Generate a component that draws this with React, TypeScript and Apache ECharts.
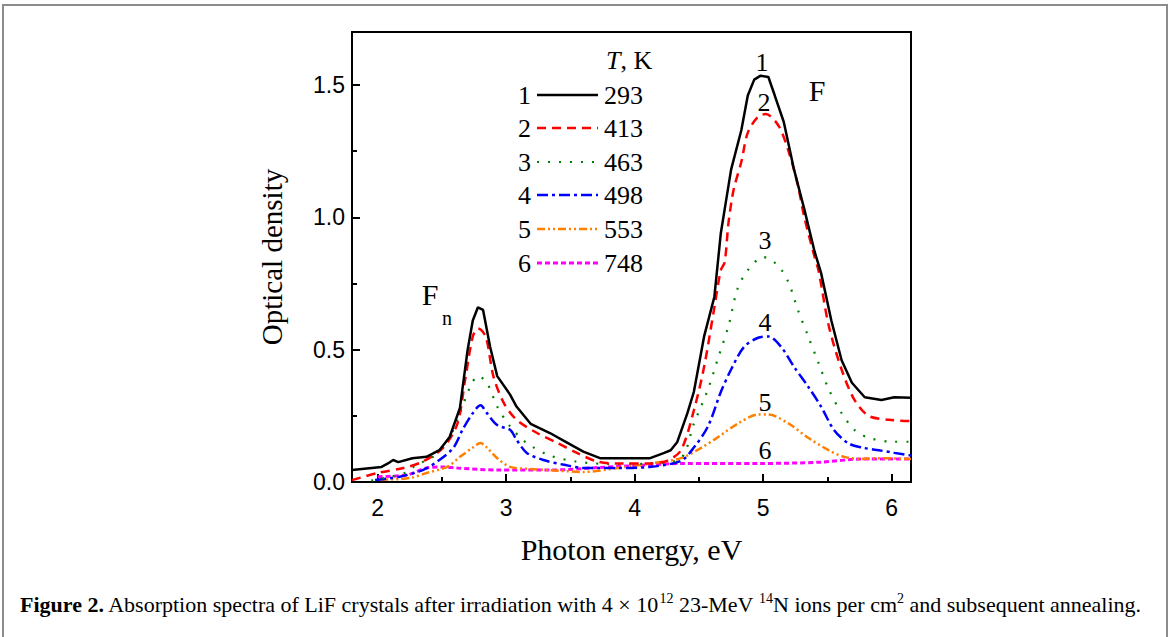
import React, { useEffect, useRef } from "react";
import * as echarts from "echarts";

const curveLabels = ["1", "2", "3", "4", "5", "6"];
const temps = ["293", "413", "463", "498", "553", "748"];
const colors = ["#000000", "#ff0000", "#008000", "#0000ff", "#ff8000", "#ff00ff"];

const xMajor = [2, 3, 4, 5, 6];
const xMinor = [2.5, 3.5, 4.5, 5.5];
const yMajor = [0, 0.5, 1.0, 1.5];
const yMinor = [0.25, 0.75, 1.25];

// curve 1 (293 K)
const x1 = [1.8, 2.03, 2.08, 2.12, 2.16, 2.27, 2.38, 2.48, 2.56, 2.64, 2.7, 2.74, 2.78, 2.82, 2.875, 2.93, 3.03, 3.08, 3.19, 3.34, 3.47, 3.6, 3.73, 4.12, 4.23, 4.28, 4.33, 4.41, 4.46, 4.54, 4.62, 4.67, 4.71, 4.75, 4.83, 4.88, 4.93, 4.98, 5.04, 5.09, 5.16, 5.24, 5.32, 5.4, 5.45, 5.53, 5.61, 5.69, 5.79, 5.92, 6.02, 6.15];
const y1 = [0.045, 0.057, 0.07, 0.083, 0.075, 0.09, 0.095, 0.12, 0.17, 0.28, 0.5, 0.61, 0.66, 0.65, 0.51, 0.4, 0.33, 0.285, 0.22, 0.185, 0.15, 0.115, 0.09, 0.09, 0.11, 0.12, 0.15, 0.26, 0.34, 0.55, 0.7, 0.94, 1.06, 1.18, 1.33, 1.46, 1.52, 1.535, 1.53, 1.46, 1.36, 1.18, 1.03, 0.87, 0.79, 0.61, 0.46, 0.375, 0.32, 0.31, 0.32, 0.318];

// curve 2 (413 K)
const x2 = [1.8, 2.0, 2.2, 2.35, 2.51, 2.62, 2.68, 2.74, 2.78, 2.84, 2.9, 2.98, 3.08, 3.24, 3.4, 3.55, 3.71, 3.87, 4.12, 4.25, 4.36, 4.46, 4.54, 4.62, 4.67, 4.7, 4.73, 4.77, 4.83, 4.88, 4.96, 5.02, 5.12, 5.2, 5.27, 5.32, 5.4, 5.43, 5.51, 5.61, 5.71, 5.82, 5.98, 6.15];
const y2 = [0.007, 0.034, 0.053, 0.077, 0.13, 0.22, 0.385, 0.55, 0.58, 0.55, 0.4, 0.3, 0.235, 0.185, 0.147, 0.11, 0.077, 0.07, 0.07, 0.08, 0.12, 0.27, 0.435, 0.66, 0.8, 0.83, 0.98, 1.105, 1.21, 1.32, 1.38, 1.39, 1.345, 1.245, 1.12, 1.0, 0.85, 0.8, 0.59, 0.425, 0.31, 0.25, 0.235, 0.23];

// curve 3 (463 K)
const x3 = [1.95, 2.1, 2.23, 2.3, 2.43, 2.56, 2.64, 2.72, 2.78, 2.85, 2.93, 3.03, 3.16, 3.34, 3.55, 3.81, 4.12, 4.36, 4.46, 4.57, 4.65, 4.73, 4.8, 4.88, 5.0, 5.12, 5.2, 5.27, 5.35, 5.43, 5.51, 5.61, 5.71, 5.82, 6.02, 6.15];
const y3 = [0.005, 0.02, 0.038, 0.065, 0.095, 0.17, 0.26, 0.36, 0.4, 0.375, 0.285, 0.21, 0.147, 0.1, 0.077, 0.068, 0.07, 0.09, 0.22, 0.35, 0.47, 0.59, 0.73, 0.8, 0.85, 0.815, 0.75, 0.65, 0.55, 0.45, 0.35, 0.26, 0.197, 0.167, 0.152, 0.152];

// curve 4 (498 K)
const x4 = [1.98, 2.17, 2.35, 2.48, 2.59, 2.66, 2.74, 2.8, 2.85, 2.93, 3.03, 3.08, 3.16, 3.29, 3.45, 3.6, 3.87, 4.12, 4.36, 4.46, 4.57, 4.67, 4.75, 4.85, 4.96, 5.04, 5.14, 5.24, 5.35, 5.45, 5.55, 5.66, 5.77, 5.9, 6.02, 6.15];
const y4 = [0.008, 0.02, 0.045, 0.083, 0.13, 0.197, 0.26, 0.29, 0.26, 0.215, 0.197, 0.16, 0.11, 0.083, 0.065, 0.053, 0.053, 0.057, 0.08, 0.13, 0.21, 0.34, 0.425, 0.51, 0.545, 0.55, 0.51, 0.435, 0.36, 0.285, 0.197, 0.147, 0.13, 0.12, 0.11, 0.1];

// curve 5 (553 K)
const x5 = [2.02, 2.25, 2.38, 2.54, 2.64, 2.74, 2.8, 2.85, 2.93, 3.03, 3.19, 3.34, 3.6, 3.87, 4.12, 4.36, 4.52, 4.65, 4.8, 4.96, 5.04, 5.2, 5.35, 5.51, 5.63, 5.77, 5.9, 6.15];
const y5 = [0.008, 0.015, 0.034, 0.057, 0.095, 0.13, 0.147, 0.13, 0.09, 0.057, 0.049, 0.045, 0.038, 0.053, 0.07, 0.09, 0.13, 0.17, 0.22, 0.255, 0.255, 0.22, 0.167, 0.12, 0.095, 0.087, 0.09, 0.087];

// curve 6 (748 K)
const x6 = [2.0, 2.23, 2.38, 2.51, 2.62, 2.95, 3.34, 3.73, 4.12, 4.36, 4.98, 5.45, 5.77, 6.15];
const y6 = [0.02, 0.027, 0.053, 0.057, 0.053, 0.045, 0.045, 0.055, 0.065, 0.07, 0.07, 0.075, 0.087, 0.087];

const xs = [x1, x2, x3, x4, x5, x6];
const ys = [y1, y2, y3, y4, y5, y6];

const dashes: any[] = ["solid", [9, 6], [2, 9], [11, 4, 3, 4], [8, 3, 2, 3, 2, 3], [5, 3]];
const widths = [2.5, 2.5, 2.2, 2.5, 2.5, 3];

const legendRowY = [95, 128, 162, 195, 229, 263];

const serif = "'Liberation Serif', 'DejaVu Serif', serif";
const sans = "'Liberation Sans', Arial, sans-serif";

export default function App() {
  const ref = useRef<HTMLDivElement>(null);
  useEffect(() => {
    if (!ref.current) return;
    const chart = echarts.init(ref.current, null, { renderer: "svg" });
    const tickStyle = { color: "#000", width: 2 };
    const series = xs.map((xa, i) => ({
      type: "line",
      name: temps[i],
      xAxisIndex: 0,
      yAxisIndex: 0,
      data: xa.map((x, j) => [x, ys[i][j]]),
      showSymbol: false,
      smooth: i === 0 ? false : 0.3,
      z: 10 - i,
      lineStyle: { color: colors[i], width: widths[i], type: dashes[i] },
    }));

    const legendEls: any[] = [];
    legendEls.push({
      type: "text",
      x: 606,
      y: 60,
      style: {
        text: "{i|T}{n|, K}",
        rich: {
          i: { fontFamily: serif, fontSize: 26, fontStyle: "italic", fill: "#000" },
          n: { fontFamily: serif, fontSize: 26, fill: "#000" },
        },
        verticalAlign: "middle",
      },
    });
    legendRowY.forEach((yy, i) => {
      legendEls.push({
        type: "text",
        x: 531,
        y: yy,
        style: { text: curveLabels[i], fontFamily: serif, fontSize: 26, fill: "#000", align: "right", verticalAlign: "middle" },
      });
      legendEls.push({
        type: "line",
        shape: { x1: 537, y1: yy, x2: 598, y2: yy },
        style: { stroke: colors[i], lineWidth: widths[i], lineDash: dashes[i] === "solid" ? null : dashes[i] },
      });
      legendEls.push({
        type: "text",
        x: 604,
        y: yy,
        style: { text: temps[i], fontFamily: serif, fontSize: 26, fill: "#000", align: "left", verticalAlign: "middle" },
      });
    });

    const annot = (t: string, x: number, y: number, size = 26) => ({
      type: "text",
      x,
      y,
      style: { text: t, fontFamily: serif, fontSize: size, fill: "#000", align: "center", verticalAlign: "middle" },
    });

    chart.setOption({
      animation: false,
      grid: { left: 352, top: 32, right: 260, bottom: 155, show: true, borderColor: "#000", borderWidth: 2, backgroundColor: "transparent" },
      xAxis: [
        {
          type: "value",
          min: 1.8,
          max: 6.15,
          position: "bottom",
          axisLine: { show: true, onZero: false, lineStyle: { color: "#000", width: 2 } },
          axisTick: { show: true, inside: true, length: 8, customValues: xMajor, lineStyle: tickStyle },
          axisLabel: { customValues: xMajor, fontFamily: sans, fontSize: 23, color: "#000", margin: 14 },
          splitLine: { show: false },
          name: "Photon energy, eV",
          nameLocation: "middle",
          nameGap: 52,
          nameTextStyle: { fontFamily: serif, fontSize: 30, color: "#000" },
        },
        {
          type: "value",
          min: 1.8,
          max: 6.15,
          position: "bottom",
          axisLine: { show: false },
          axisTick: { show: true, inside: true, length: 5, customValues: xMinor, lineStyle: tickStyle },
          axisLabel: { show: false },
          splitLine: { show: false },
        },
      ],
      yAxis: [
        {
          type: "value",
          min: 0,
          max: 1.7,
          position: "left",
          axisLine: { show: true, onZero: false, lineStyle: { color: "#000", width: 2 } },
          axisTick: { show: true, inside: true, length: 8, customValues: yMajor, lineStyle: tickStyle },
          axisLabel: {
            customValues: yMajor,
            fontFamily: sans,
            fontSize: 23,
            color: "#000",
            margin: 7,
            formatter: (v: number) => v.toFixed(1),
          },
          splitLine: { show: false },
          name: "Optical density",
          nameLocation: "middle",
          nameGap: 66,
          nameTextStyle: { fontFamily: serif, fontSize: 29, color: "#000" },
        },
        {
          type: "value",
          min: 0,
          max: 1.7,
          position: "left",
          axisLine: { show: false },
          axisTick: { show: true, inside: true, length: 5, customValues: yMinor, lineStyle: tickStyle },
          axisLabel: { show: false },
          splitLine: { show: false },
        },
      ],
      series,
      graphic: [
        {
          type: "rect",
          shape: { x: 3, y: 5, width: 1164, height: 700 },
          style: { fill: "none", stroke: "#8c8c8c", lineWidth: 2 },
          silent: true,
        },
        ...legendEls,
        annot("1", 762, 62),
        annot("2", 764, 102),
        annot("F", 817, 90, 30),
        annot("3", 765, 240),
        annot("4", 765, 322),
        annot("5", 765, 402),
        annot("6", 765, 450),
        annot("F", 430, 294, 30),
        annot("n", 447, 318, 20),
        {
          type: "text",
          x: 20,
          y: 603,
          style: {
            text: "{b|Figure 2.}{t| Absorption spectra of LiF crystals after irradiation with 4 × 10}{s|12}{t| 23-MeV }{s|14}{t|N ions per cm}{s|2}{t| and subsequent annealing.}",
            verticalAlign: "middle",
            rich: {
              b: { fontFamily: serif, fontSize: 22, fontWeight: "bold", fill: "#000", lineHeight: 24, verticalAlign: "bottom" },
              t: { fontFamily: serif, fontSize: 22, fill: "#000", lineHeight: 24, verticalAlign: "bottom" },
              s: { fontFamily: serif, fontSize: 14, fill: "#000", lineHeight: 24, verticalAlign: "top" },
            },
          },
        },
      ],
    });
    return () => chart.dispose();
  }, []);
  return <div ref={ref} style={{ position: "fixed", left: 0, top: 0, width: 1171, height: 637, background: "#fff" }} />;
}
